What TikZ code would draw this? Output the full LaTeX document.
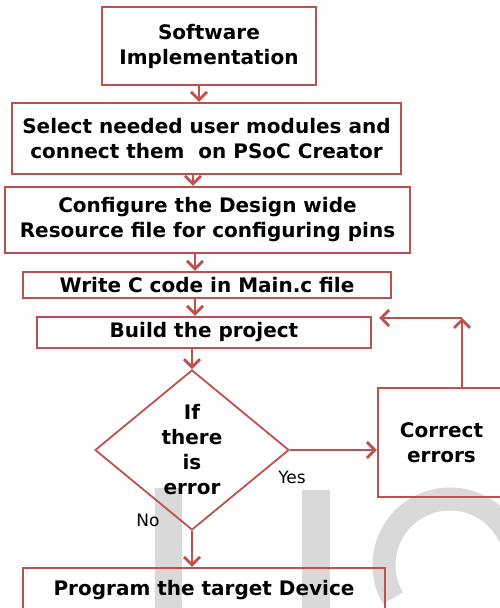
\documentclass[tikz,border=0pt]{standalone}
\usepackage{fontspec}
\setmainfont{DejaVu Sans}
\usepackage{tikz}
\usetikzlibrary{arrows.meta}
\usetikzlibrary{shapes.geometric}
\definecolor{flowred}{HTML}{C0504D}
\definecolor{markgray}{HTML}{D9D9D9}

\begin{document}
\begin{tikzpicture}[x=1pt, y=1pt,
        box/.style={draw=flowred, line width=2.4pt, inner sep=0pt, align=center,
            font=\fontsize{20}{25}\selectfont\bfseries},
        decision/.style={diamond, draw=flowred, line width=1.8pt, inner sep=0pt, align=center,
            minimum width=194pt, minimum height=160pt,
            font=\fontsize{20}{25}\selectfont\bfseries},
        flow/.style={draw=flowred, line width=2.8pt, -{Straight Barb[length=8pt, width=16pt, line width=2.8pt]}},
        lbl/.style={inner sep=0pt, font=\fontsize{17}{20}\selectfont}]
        \useasboundingbox (0,0) rectangle (500,608);
        \fill[markgray] (155,0) rectangle (182,120);
        \fill[markgray] (302,0) rectangle (330,118);
        \draw[markgray, line width=23pt] (450,43) ++(210:66) arc[start angle=210, end angle=25, radius=66];
        \node[box, minimum width=214pt, minimum height=78pt] (soft) at (209,562) {Software\\Implementation};
        \node[box, minimum width=389pt, minimum height=71pt] (select) at (206.5,469.5) {Select needed user modules and\\connect them \ on PSoC Creator};
        \node[box, minimum width=405pt, minimum height=66pt] (config) at (207.5,388) {Configure the Design wide\\Resource file for configuring pins};
        \node[box, minimum width=368pt, minimum height=26pt] (code) at (207,323) {Write C code in Main.c file};
        \node[box, minimum width=334pt, minimum height=31pt] (build) at (204,275.5) {Build the project};
        \node[decision] (check) at (192,158) {If\\there\\is\\error};
        \node[box, minimum width=127pt, minimum height=109pt] (fix) at (441.5,165.5) {Correct\\errors};
        \node[box, minimum width=362pt, minimum height=44pt] (prog) at (204,18) {Program the target Device};
        \node[lbl] (yes) at (292,131) {Yes};
        \node[lbl] (no) at (148,88) {No};
        \coordinate (turn) at (462,290);
        \draw[flow] (soft.south -| 199,0) -- (select.north -| 199,0);
        \draw[flow] (select.south -| 193,0) -- (config.north -| 193,0);
        \draw[flow] (config.south -| 195,0) -- (code.north -| 195,0);
        \draw[flow] (code.south -| 195,0) -- (build.north -| 195,0);
        \draw[flow] (build.south -| check.north) -- (check.north);
        \draw[flow] (check.east) -- (check.east -| fix.west);
        \draw[flow] (check.south) -- (prog.north -| check.south);
        \draw[flow] (fix.north -| turn) -- (turn);
        \draw[flow, shorten >=7pt] (turn) -- (turn -| build.east);
\end{tikzpicture}
\end{document}
